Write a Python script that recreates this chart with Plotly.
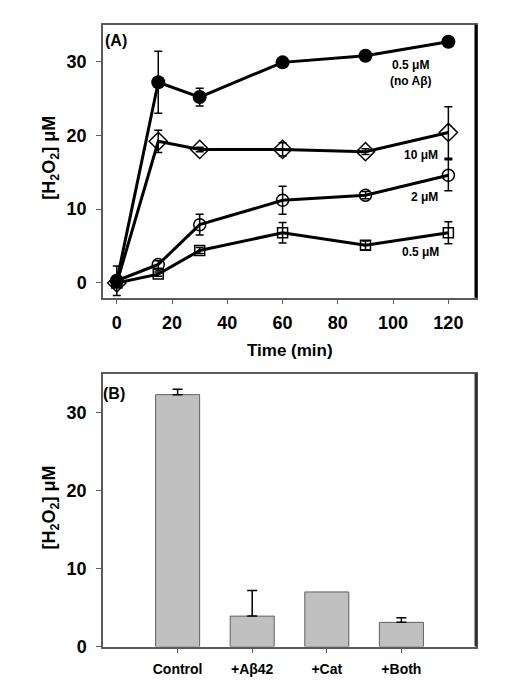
import plotly.graph_objects as go

# ---------------- Panel A data ----------------
time_min = [0, 15, 30, 60, 90, 120]

noab_vals = [0.3, 27.2, 25.2, 29.9, 30.8, 32.7]
noab_err = [2.0, 4.2, 1.2, 0.4, 0.4, 0.4]

ab10_vals = [0.0, 19.2, 18.1, 18.1, 17.8, 20.4]
ab10_err = [0.5, 1.5, 0.3, 0.9, 0.4, 3.5]

ab2_vals = [0.3, 2.5, 7.9, 11.2, 11.9, 14.6]
ab2_err = [0.5, 0.5, 1.4, 1.9, 0.5, 2.1]

ab05_vals = [0.0, 1.2, 4.4, 6.8, 5.1, 6.8]
ab05_err = [0.5, 0.3, 0.4, 1.4, 0.6, 1.5]

series_labels = ["0.5 μM<br>(no Aβ)", "10 μM", "2 μM", "0.5 μM"]

# ---------------- Panel B data ----------------
bar_categories = ["Control", "+Aβ42", "+Cat", "+Both"]
bar_values = [32.3, 3.9, 7.0, 3.1]
bar_err_plus = [0.7, 3.3, None, 0.6]   # no error bar on +Cat

x_ticks_a = [0, 20, 40, 60, 80, 100, 120]
y_ticks = [0, 10, 20, 30]

FONT = "Liberation Sans, Arial, sans-serif"
GRAY = "#5a5a5a"

fig = go.Figure()

def add_series(vals, errs, symbol, size, fill, lw=1.5):
    fig.add_trace(go.Scatter(
        x=time_min, y=vals, mode="lines+markers",
        line=dict(color="black", width=3),
        marker=dict(symbol=symbol, size=size, color=fill,
                    line=dict(color="black", width=lw)),
        error_y=dict(type="data", array=errs, visible=True,
                     color="black", thickness=1.5, width=4),
        xaxis="x", yaxis="y", showlegend=False, cliponaxis=False,
    ))

add_series(ab05_vals, ab05_err, "square-open", 10, "black")
add_series(ab2_vals, ab2_err, "circle-open", 12, "black")
add_series(ab10_vals, ab10_err, "diamond-open", 14, "black")
add_series(noab_vals, noab_err, "circle", 14, "black", 0)

fig.add_trace(go.Bar(
    x=bar_categories, y=bar_values, width=0.59,
    marker=dict(color="#c0c0c0", line=dict(color="#606060", width=1)),
    xaxis="x2", yaxis="y2", showlegend=False,
))

# error bars only for bars that have them
err_idx = [i for i, e in enumerate(bar_err_plus) if e is not None]
fig.add_trace(go.Scatter(
    x=[bar_categories[i] for i in err_idx],
    y=[bar_values[i] for i in err_idx],
    mode="markers", marker=dict(size=1, opacity=0),
    error_y=dict(type="data", symmetric=False,
                 array=[bar_err_plus[i] for i in err_idx],
                 arrayminus=[0] * len(err_idx), color="black",
                 thickness=1.5, width=5),
    xaxis="x2", yaxis="y2", showlegend=False, hoverinfo="skip",
))

axis_common = dict(showline=True, linecolor=GRAY, linewidth=1.5, mirror=True,
                   ticks="outside", ticklen=5, tickcolor=GRAY, tickwidth=1,
                   showgrid=False, zeroline=False,
                   tickfont=dict(family=FONT, size=18, color="black", weight="bold"))

A_dom_x = [95 / 510, 468 / 510]
A_dom_y = [1 - 294 / 685, 1 - 17 / 685]
B_dom_y = [1 - 648 / 685, 1 - 371 / 685]

fig.update_layout(
    width=510, height=685,
    margin=dict(l=0, r=0, t=0, b=0),
    paper_bgcolor="white", plot_bgcolor="white",
    xaxis=dict(domain=A_dom_x, anchor="y", range=[-5, 130],
               tickvals=x_ticks_a, ticklabelstandoff=3, **axis_common),
    yaxis=dict(domain=A_dom_y, anchor="x", range=[-2, 35],
               tickvals=y_ticks, ticklabelstandoff=6, **axis_common),
    xaxis2=dict(domain=A_dom_x, anchor="y2", range=[-1, 4],
                type="category", ticklabelstandoff=4,
                **{**axis_common,
                   "tickfont": dict(family=FONT, size=14, color="black", weight="bold")}),
    yaxis2=dict(domain=B_dom_y, anchor="x2", range=[0, 35],
                tickvals=y_ticks, ticklabelstandoff=6, **axis_common),
)

# thick right borders
fig.add_shape(type="line", xref="x domain", yref="y domain", x0=1, x1=1, y0=0, y1=1,
              line=dict(color="black", width=3))
fig.add_shape(type="line", xref="x2 domain", yref="y2 domain", x0=1, x1=1, y0=0, y1=1,
              line=dict(color="#333333", width=3))

ann_font = dict(family=FONT, size=12, color="black", weight="bold")
label_pos = [(106.6, 28.4), (110.2, 17.3), (111.3, 11.6), (109.9, 4.15)]
for txt, (lx, ly) in zip(series_labels, label_pos):
    fig.add_annotation(x=lx, y=ly, xref="x", yref="y", text=txt, showarrow=False,
                       font=ann_font, align="center", xanchor="center", yanchor="middle")

fig.add_annotation(x=-0.2, y=32.9, xref="x", yref="y", text="(A)", showarrow=False,
                   xanchor="center", yanchor="middle",
                   font=dict(family=FONT, size=16, color="black", weight="bold"))
fig.add_annotation(x=-0.85, y=32.4, xref="x2", yref="y2", text="(B)", showarrow=False,
                   xanchor="center", yanchor="middle",
                   font=dict(family=FONT, size=16, color="black", weight="bold"))

ylab = "[H<sub>2</sub>O<sub>2</sub>] μM"
fig.add_annotation(x=43 / 510, y=1 - 152 / 685, xref="paper", yref="paper", text=ylab,
                   textangle=-90, showarrow=False, xanchor="center", yanchor="middle",
                   font=dict(family=FONT, size=18, color="black", weight="bold"))
fig.add_annotation(x=43 / 510, y=1 - 507 / 685, xref="paper", yref="paper", text=ylab,
                   textangle=-90, showarrow=False, xanchor="center", yanchor="middle",
                   font=dict(family=FONT, size=18, color="black", weight="bold"))
fig.add_annotation(x=282 / 510, y=1 - 348 / 685, xref="paper", yref="paper",
                   text="Time (min)", showarrow=False, xanchor="center", yanchor="middle",
                   font=dict(family=FONT, size=17, color="black", weight="bold"))

fig.write_html("out.html")
